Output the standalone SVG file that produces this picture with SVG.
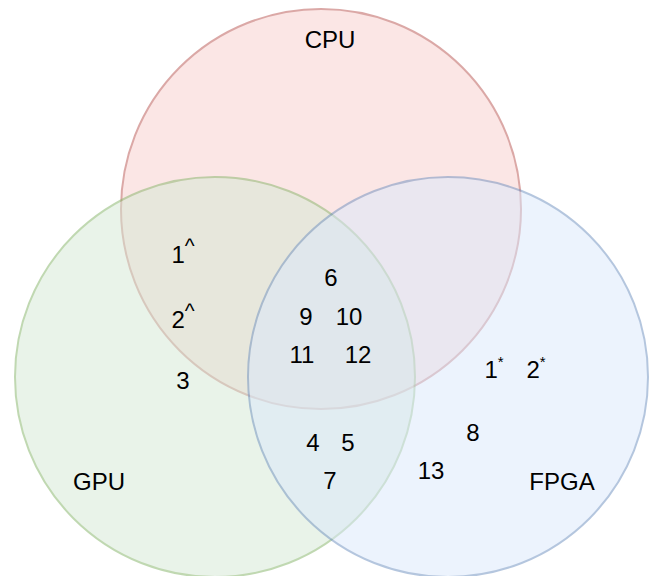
<svg xmlns="http://www.w3.org/2000/svg" width="656" height="576" viewBox="0 0 656 576">
<style>
.c{opacity:0.5;stroke-width:2}
text{font-family:"Liberation Sans",Arial,sans-serif;font-size:24px;fill:#000;text-anchor:middle}
.s{font-size:21px}
.a{font-size:15px}
</style>
<rect width="656" height="576" fill="#fff"/>
<g id="cpu"><circle class="c" cx="321" cy="209" r="200" fill="#f8cecc" stroke="#b85450"/></g>
<g id="gpu"><circle class="c" cx="215" cy="377" r="200" fill="#d5e8d4" stroke="#82b366"/></g>
<g id="fpga"><circle class="c" cx="448" cy="377" r="200" fill="#dae8fc" stroke="#6c8ebf"/></g>
<g id="connectors"></g>
<g id="labels">
<text x="330" y="48">CPU</text>
<text x="99" y="490">GPU</text>
<text x="562" y="490">FPGA</text>
<text x="183" y="263">1<tspan class="s" dy="-10">^</tspan></text>
<text x="183" y="328">2<tspan class="s" dy="-10">^</tspan></text>
<text x="183" y="389">3</text>
<text x="331" y="286">6</text>
<text x="306" y="325">9</text>
<text x="349" y="325">10</text>
<text x="302" y="363">11</text>
<text x="358" y="363">12</text>
<text x="313" y="451">4</text>
<text x="348" y="451">5</text>
<text x="330" y="489">7</text>
<text x="494" y="378">1<tspan class="a" dy="-11">*</tspan></text>
<text x="536" y="378">2<tspan class="a" dy="-11">*</tspan></text>
<text x="473" y="441">8</text>
<text x="431" y="479">13</text>
</g>
</svg>
